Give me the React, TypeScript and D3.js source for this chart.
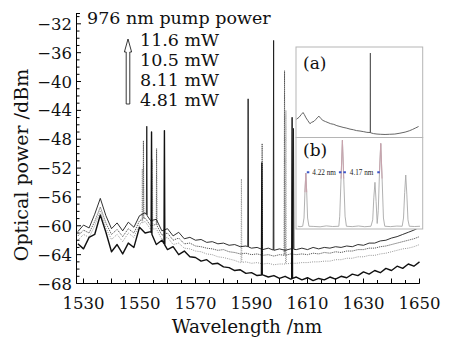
import * as d3 from "d3"

const W = 452
const H = 337
const SERIF = "'DejaVu Serif', serif"

// wavelength grid of the spectra (nm)
const WAVELENGTHS = [
  1528, 1530, 1532, 1534, 1536, 1538, 1540, 1542, 1544, 1546, 1548, 1550, 1552, 1554, 1556, 1558,
  1560, 1562, 1564, 1566, 1568, 1570, 1572, 1574, 1576, 1578, 1580, 1582, 1584, 1586, 1588, 1590,
  1592, 1594, 1596, 1598, 1600, 1602, 1604, 1606, 1608, 1610, 1612, 1614, 1616, 1618, 1620, 1622,
  1624, 1626, 1628, 1630, 1632, 1634, 1636, 1638, 1640, 1642, 1644, 1646, 1648, 1650,
]

// background spectra (dBm), one per pump power
const P116 = [
  -60.8, -59.9, -60.3, -58.4, -56.2, -58.6, -60.4, -59.6, -60.7, -59.5, -60.2, -58.6, -58.2, -59.3, -59.1, -60.7,
  -60.4, -61.4, -60.9, -61.8, -61.6, -62.0, -61.9, -62.3, -62.2, -62.5, -62.4, -62.7, -62.6, -62.9, -62.8, -63.1,
  -63.0, -63.3, -63.1, -63.4, -63.2, -63.4, -63.2, -63.3, -63.1, -63.3, -63.0, -63.2, -63.0, -63.1, -62.9, -63.0,
  -62.8, -62.9, -62.6, -62.7, -62.4, -62.4, -62.1, -62.0, -61.7, -61.5, -61.2, -60.9, -60.6, -60.2,
]
const P105 = [
  -61.4, -60.6, -61.0, -59.4, -57.4, -59.6, -61.2, -60.5, -61.5, -60.4, -61.0, -59.3, -58.9, -60.0, -59.8, -61.3,
  -61.0, -62.0, -61.7, -62.5, -62.4, -62.8, -62.9, -63.1, -63.2, -63.4, -63.3, -63.6, -63.7, -63.9, -63.8, -64.0,
  -63.9, -64.1, -64.0, -64.2, -64.0, -64.1, -63.9, -64.0, -63.9, -64.0, -63.8, -63.9, -63.7, -63.8, -63.6, -63.7,
  -63.5, -63.5, -63.3, -63.3, -63.1, -63.1, -62.9, -62.8, -62.6, -62.4, -62.2, -62.0, -61.8, -61.5,
]
const P811 = [
  -62.0, -61.2, -61.6, -60.0, -57.9, -60.3, -61.9, -61.2, -62.2, -61.0, -61.6, -59.8, -59.4, -60.5, -60.4, -61.9,
  -61.6, -62.6, -62.4, -63.1, -63.2, -63.5, -63.6, -63.9, -64.0, -64.3, -64.4, -64.6, -64.8, -65.1, -65.0, -65.2,
  -65.1, -65.3, -65.2, -65.4, -65.3, -65.3, -65.2, -65.2, -65.1, -65.1, -65.0, -65.0, -64.9, -64.9, -64.7, -64.7,
  -64.5, -64.5, -64.3, -64.3, -64.1, -64.1, -63.9, -63.8, -63.6, -63.4, -63.2, -63.1, -62.9, -62.6,
]
const P481 = [
  -62.5, -63.2, -61.6, -61.2, -58.5, -60.9, -63.6, -62.6, -63.9, -62.4, -63.0, -60.2, -61.0, -60.8, -62.6, -62.0,
  -63.3, -62.9, -64.0, -63.5, -64.3, -64.4, -64.9, -64.7, -65.3, -65.2, -65.7, -65.8, -66.2, -66.1, -66.6, -66.5,
  -66.9, -66.8, -67.1, -66.9, -67.3, -67.0, -67.4, -67.1, -67.5, -67.2, -67.6, -67.3, -67.5, -67.1, -67.4, -67.0,
  -67.2, -66.7, -66.9, -66.4, -66.7, -66.2, -66.5, -65.9, -66.2, -65.6, -65.9, -65.3, -65.6, -65.0,
]

// lasing lines [wavelength nm, peak dBm]
const PEAKS_116: [number, number][] = [[1552.6, -46.2], [1588.8, -42.4], [1597.9, -34.3], [1605.0, -46.5]]
const PEAKS_105: [number, number][] = [[1551.4, -48.2], [1556.1, -49.3], [1593.8, -48.6], [1601.8, -38.5]]
const PEAKS_811: [number, number][] = [[1551.0, -52.1], [1554.6, -50.8], [1586.4, -53.5], [1602.3, -44.0]]
const PEAKS_481: [number, number][] = [[1554.3, -47.0], [1558.9, -46.8], [1593.7, -51.3], [1604.5, -45.0]]

const POWER_LABELS = ["11.6 mW", "10.5 mW", "8.11 mW", "4.81 mW"]
const X_TICKS = [1530, 1550, 1570, 1590, 1610, 1630, 1650]
const Y_TICKS = [-68, -64, -60, -56, -52, -48, -44, -40, -36, -32]

// inset (a): single-line spectrum [nm, dBm]
const INSET_A: [number, number][] = [
  [1528, -61.5], [1530.5, -60.6], [1532.5, -59.4], [1534.3, -58.4], [1535.5, -59.3], [1537.2, -60.9],
  [1539, -62.2], [1541, -63.6], [1542.5, -63.0], [1544.9, -62.5], [1546.5, -61.7], [1548.5, -60.6],
  [1549.7, -60.1], [1551.5, -61.2], [1553.6, -62.1], [1556, -62.6], [1558.5, -63.1], [1561, -63.6],
  [1564, -63.9], [1567, -64.5], [1570, -64.9], [1573, -65.3], [1576, -65.6], [1579.7, -66.1],
  [1583, -66.4], [1586, -66.8], [1589.4, -67.0], [1593, -67.3], [1596, -67.6], [1599.3, -67.7],
  [1599.4, -30.8], [1599.5, -67.8], [1602.5, -68.2], [1605.8, -68.4], [1609, -68.5], [1613.6, -68.6],
  [1618, -68.5], [1623, -68.4], [1628, -68.0], [1633, -67.5], [1637, -66.9], [1640, -66.3],
  [1643, -65.6], [1646, -64.9],
]

// inset (b): zoom on the multiwavelength lines [nm, a.u.]
const INSET_B: [number, number][] = [
  [1588.6, 0.03], [1588.85, 0.025], [1589.15, 0.03], [1589.3, 0.12], [1589.4, 0.4], [1589.5, 0.61],
  [1589.6, 0.4], [1589.7, 0.12], [1589.85, 0.03], [1590.4, 0.028], [1591.1, 0.024], [1591.8, 0.034],
  [1592.5, 0.027], [1593.2, 0.03], [1593.3, 0.14], [1593.45, 0.55], [1593.6, 0.97], [1593.75, 0.55],
  [1593.9, 0.14], [1594.05, 0.03], [1594.7, 0.026], [1595.4, 0.033], [1596.1, 0.025], [1596.8, 0.03],
  [1597.0, 0.1], [1597.12, 0.34], [1597.25, 0.51], [1597.38, 0.3], [1597.5, 0.06], [1597.62, 0.2],
  [1597.75, 0.6], [1597.9, 0.935], [1598.05, 0.55], [1598.2, 0.12], [1598.35, 0.03], [1599.0, 0.026],
  [1599.7, 0.032], [1600.3, 0.03], [1600.45, 0.12], [1600.58, 0.4], [1600.7, 0.59], [1600.82, 0.38],
  [1600.95, 0.1], [1601.1, 0.03], [1601.7, 0.027], [1602.3, 0.03],
]
const INSET_B_MARKED: [number, number][] = [[1589.5, 0.61], [1593.6, 0.97], [1597.9, 0.935]]
const SPACINGS = [
  { from: 1589.5, to: 1593.6, label: "4.22 nm" },
  { from: 1593.6, to: 1597.9, label: "4.17 nm" },
]

const x = d3.scaleLinear().domain([1527.5, 1650]).range([76.5, 419.5])
const y = d3.scaleLinear().domain([-68, -30.5]).range([283.5, 13])

const line = d3.line<[number, number]>().x((d) => x(d[0])).y((d) => y(d[1]))

function withPeaks(values: number[], peaks: [number, number][]) {
  const pts: [number, number][] = WAVELENGTHS.map((w, i) => [w, values[i]])
  const base = d3.scaleLinear().domain(WAVELENGTHS).range(values)
  peaks.forEach(([w, p]) => {
    pts.push([w - 0.15, base(w - 0.15)], [w, p], [w + 0.15, base(w + 0.15)])
  })
  return pts.sort((a, b) => a[0] - b[0])
}

const TRACES = [
  { values: P811, peaks: PEAKS_811, stroke: "#8a8a8a", width: 0.9, dash: "1,1.2" },
  { values: P105, peaks: PEAKS_105, stroke: "#4a4a4a", width: 0.9, dash: "1.2,0.9" },
  { values: P116, peaks: PEAKS_116, stroke: "#1a1a1a", width: 0.9, dash: "" },
  { values: P481, peaks: PEAKS_481, stroke: "#111", width: 1.4, dash: "" },
]

// insets
const BOX = { x0: 296, x1: 422.7, a0: 47, a1: 137.5, b1: 229 }
const xa = d3.scaleLinear().domain([1527.5, 1650]).range([BOX.x0, BOX.x1])
const ya = d3.scaleLinear().domain([-70, -28]).range([BOX.a1, BOX.a0])
const xb = d3.scaleLinear().domain([1588.4, 1602.6]).range([BOX.x0, BOX.x1])
const yb = d3.scaleLinear().domain([0, 1]).range([BOX.b1, BOX.a1])
const lineA = d3.line<[number, number]>().x((d) => xa(d[0])).y((d) => ya(d[1]))
const lineB = d3.line<[number, number]>().x((d) => xb(d[0])).y((d) => yb(d[1]))

export default function App() {
  const yMinor = d3.range(-68, -30, 1)
  const xMinor = d3.range(1530, 1651, 5)
  const markY = yb(0.62)

  return (
    <div style={{ position: "fixed", left: 0, top: 0 }}>
      <svg width={W} height={H} style={{ display: "block", background: "#fff" }}>
        {/* spectra */}
        {TRACES.map((t, i) => (
          <path
            key={i}
            d={line(withPeaks(t.values, t.peaks)) ?? ""}
            fill="none"
            stroke={t.stroke}
            strokeWidth={t.width}
            strokeDasharray={t.dash || undefined}
            strokeLinejoin="round"
          />
        ))}

        {/* inset (a) */}
        <rect x={BOX.x0} y={BOX.a0} width={BOX.x1 - BOX.x0} height={BOX.a1 - BOX.a0} fill="#fff" stroke="#b5b5b5" strokeWidth={1} />
        <path d={lineA(INSET_A) ?? ""} fill="none" stroke="#555" strokeWidth={0.9} />
        <text x={303} y={69} fontFamily={SERIF} fontSize={17} fill="#111">(a)</text>

        {/* inset (b) */}
        <rect x={BOX.x0} y={BOX.a1} width={BOX.x1 - BOX.x0} height={BOX.b1 - BOX.a1} fill="#fff" stroke="#b5b5b5" strokeWidth={1} />
        <path d={lineB(INSET_B) ?? ""} fill="none" stroke="#a8a8a8" strokeWidth={0.9} />
        {INSET_B_MARKED.map(([w, v], i) => {
          const seg = INSET_B.filter((d) => Math.abs(d[0] - w) < 0.2 && d[1] > v * 0.3)
          return <path key={i} d={lineB(seg) ?? ""} fill="none" stroke="#c9a3ad" strokeWidth={1} />
        })}
        <text x={303} y={156} fontFamily={SERIF} fontSize={17} fill="#111">(b)</text>
        {SPACINGS.map((s, i) => {
          const a = xb(s.from)
          const b = xb(s.to)
          return (
            <g key={i}>
              <line x1={a + 1} x2={a + 3.5} y1={markY} y2={markY} stroke="#3a55c8" strokeWidth={2} />
              <line x1={b - 3.5} x2={b - 1} y1={markY} y2={markY} stroke="#3a55c8" strokeWidth={2} />
              <text x={(a + b) / 2} y={markY + 2.5} textAnchor="middle" fontFamily="'Liberation Serif', serif" fontSize={7.2} fill="#222">
                {s.label}
              </text>
            </g>
          )
        })}

        {/* axes */}
        <line x1={76.5} x2={76.5} y1={13} y2={283.5} stroke="#000" strokeWidth={1} />
        <line x1={76.5} x2={419.5} y1={283.5} y2={283.5} stroke="#000" strokeWidth={1} />
        {yMinor.map((v) => (
          <line key={v} x1={76.5} x2={v % 4 === 0 ? 81 : 79.5} y1={y(v)} y2={y(v)} stroke="#000" strokeWidth={1} />
        ))}
        <line x1={76.5} x2={80} y1={13.5} y2={13.5} stroke="#000" strokeWidth={1} />
        {xMinor.map((v) => (
          <line key={v} x1={x(v)} x2={x(v)} y1={283.5} y2={(v - 1530) % 10 === 0 ? 278.5 : 280} stroke="#000" strokeWidth={1} />
        ))}
        {Y_TICKS.map((v) => (
          <text key={v} x={72} y={y(v) + 6} textAnchor="end" fontFamily={SERIF} fontSize={16.5} fill="#111">
            {"\u2212" + Math.abs(v)}
          </text>
        ))}
        {X_TICKS.map((v) => (
          <text key={v} x={x(v)} y={309} textAnchor="middle" fontFamily={SERIF} fontSize={16.5} fill="#111">
            {v}
          </text>
        ))}
        <text x={247} y={333} textAnchor="middle" fontFamily={SERIF} fontSize={18.4} fill="#111">
          Wavelength /nm
        </text>
        <text transform="translate(28,165) rotate(-90)" textAnchor="middle" fontFamily={SERIF} fontSize={19} fill="#111">
          Optical power /dBm
        </text>

        {/* legend */}
        <text x={87} y={24} fontFamily={SERIF} fontSize={17.5} fill="#111">976 nm pump power</text>
        {POWER_LABELS.map((l, i) => (
          <text key={l} x={140} y={46 + i * 20} fontFamily={SERIF} fontSize={17.5} fill="#111">{l}</text>
        ))}
        <path
          d="M128,39 L131.6,52 L129.8,52 L129.8,104 L126.2,104 L126.2,52 L124.4,52 Z"
          fill="#fff"
          stroke="#222"
          strokeWidth={0.9}
        />
      </svg>
    </div>
  )
}
